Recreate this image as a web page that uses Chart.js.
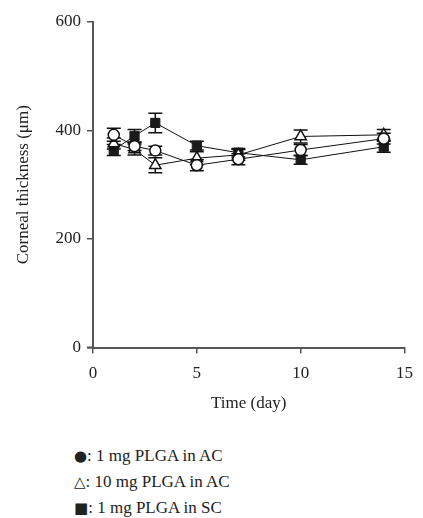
<!DOCTYPE html>
<html lang="en">
<head>
<meta charset="UTF-8">
<title>Corneal thickness</title>
<style>
    body { margin: 0; background: #fff; font-family: "Liberation Serif", serif; }
    #wrap { position: relative; width: 423px; height: 420px; }
    #legend { position: absolute; left: 74px; top: 443px; font-size: 17px; line-height: 25px; color: #222; }
    .sym { font-family: "DejaVu Sans", sans-serif; font-size: 15px; }
</style>
</head>
<body>
<div id="wrap"><canvas id="chart" width="423" height="420"></canvas></div>
<div id="legend">
    <div><span class="sym">●</span>: 1 mg PLGA in AC</div>
    <div><span class="sym">△</span>: 10 mg PLGA in AC</div>
    <div><span class="sym">■</span>: 1 mg PLGA in SC</div>
</div>
<script src="https://cdn.jsdelivr.net/npm/chart.js"></script>
<script>
    const days = [1, 2, 3, 5, 7, 10, 14];
    const circleVals = [392, 371, 363, 336, 347, 364, 385];
    const circleErr = [12, 8, 8, 10, 10, 10, 10];
    const triangleVals = [376, 365, 336, 349, 355, 389, 392];
    const triangleErr = [10, 10, 14, 12, 10, 12, 10];
    const squareVals = [364, 390, 414, 372, 359, 346, 370];
    const squareErr = [10, 12, 18, 8, 8, 8, 10];
    const xTicks = [0, 5, 10, 15];
    const yTicks = [0, 200, 400, 600];

    const errors = [circleErr, triangleErr, squareErr];
    const axisColor = '#555';
    const font = { family: '"Liberation Serif", serif', size: 17 };

    function points(vals) {
        return days.map((d, i) => ({ x: d, y: vals[i] }));
    }

    // draws the error bars of one dataset just before its line and markers
    const errorBars = {
        id: 'errorBars',
        beforeDatasetDraw(chart, args) {
            const err = errors[args.index];
            const ds = chart.data.datasets[args.index];
            const ctx = chart.ctx;
            const xs = chart.scales.x, ys = chart.scales.y;
            ctx.save();
            ctx.strokeStyle = '#111';
            ctx.lineWidth = 1.5;
            ds.data.forEach((p, i) => {
                const x = xs.getPixelForValue(p.x);
                const top = ys.getPixelForValue(p.y + err[i]);
                const bot = ys.getPixelForValue(p.y - err[i]);
                ctx.beginPath();
                ctx.moveTo(x, top); ctx.lineTo(x, bot);
                ctx.moveTo(x - 7, top); ctx.lineTo(x + 7, top);
                ctx.moveTo(x - 7, bot); ctx.lineTo(x + 7, bot);
                ctx.stroke();
            });
            ctx.restore();
        },
        // x axis line runs a little past the y axis, as in the original
        afterDraw(chart) {
            const ctx = chart.ctx;
            const a = chart.chartArea;
            ctx.save();
            ctx.strokeStyle = axisColor;
            ctx.lineWidth = 2;
            ctx.beginPath();
            ctx.moveTo(a.left - 6, a.bottom);
            ctx.lineTo(a.left, a.bottom);
            ctx.stroke();
            ctx.restore();
        }
    };

    new Chart(document.getElementById('chart'), {
        type: 'line',
        data: {
            datasets: [{
                label: '1 mg PLGA in AC',
                data: points(circleVals),
                borderColor: '#111',
                borderWidth: 1,
                pointStyle: 'circle',
                pointRadius: 5.5,
                pointBackgroundColor: '#fff',
                pointBorderColor: '#111',
                pointBorderWidth: 1.5
            }, {
                label: '10 mg PLGA in AC',
                data: points(triangleVals),
                borderColor: '#111',
                borderWidth: 1,
                pointStyle: 'triangle',
                pointRadius: 6.5,
                pointBackgroundColor: '#fff',
                pointBorderColor: '#111',
                pointBorderWidth: 1.5
            }, {
                label: '1 mg PLGA in SC',
                data: points(squareVals),
                borderColor: '#111',
                borderWidth: 1,
                pointStyle: 'rect',
                pointRadius: 6.5,
                pointBackgroundColor: '#1a1a1a',
                pointBorderColor: '#1a1a1a',
                pointBorderWidth: 1
            }]
        },
        options: {
            responsive: false,
            animation: false,
            layout: { padding: { top: 22, right: 10, left: 9, bottom: 2 } },
            plugins: { legend: { display: false }, tooltip: { enabled: false } },
            scales: {
                x: {
                    type: 'linear',
                    min: 0, max: 15,
                    afterBuildTicks(scale) { scale.ticks = xTicks.map(v => ({ value: v })); },
                    afterFit(scale) { scale.height = 70.5; },
                    grid: { drawOnChartArea: false, color: axisColor, tickLength: 6, lineWidth: 1.5 },
                    border: { color: axisColor, width: 2 },
                    ticks: { color: '#222', font: font, padding: 10, maxRotation: 0 },
                    title: { display: true, text: 'Time (day)', color: '#222', font: font }
                },
                y: {
                    min: 0, max: 600,
                    afterBuildTicks(scale) { scale.ticks = yTicks.map(v => ({ value: v })); },
                    afterFit(scale) { scale.width = 84; },
                    grid: { drawOnChartArea: false, color: axisColor, tickLength: 6, lineWidth: 1.5 },
                    border: { color: axisColor, width: 2 },
                    ticks: { color: '#222', font: font, padding: 6 },
                    title: { display: true, text: 'Corneal thickness (μm)', color: '#222', font: font }
                }
            }
        },
        plugins: [errorBars]
    });
</script>
</body>
</html>
